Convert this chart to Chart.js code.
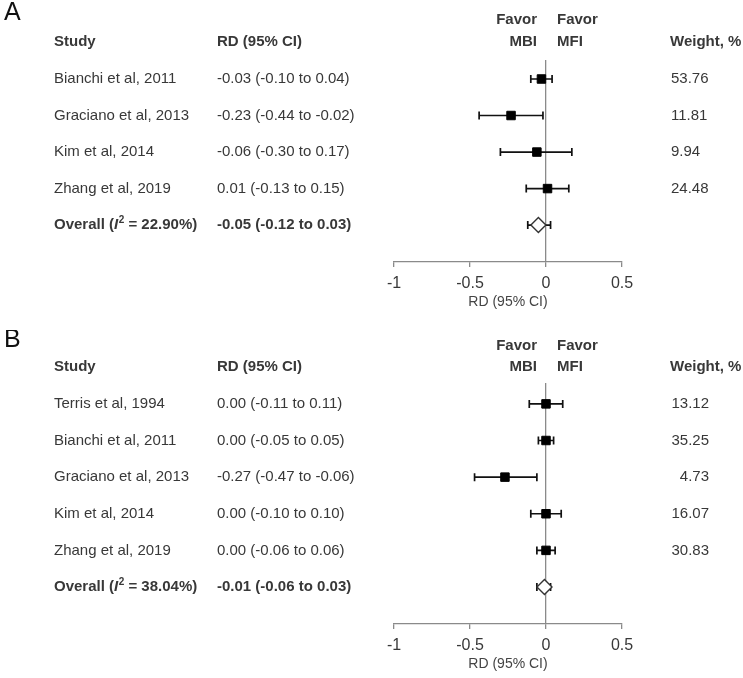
<!DOCTYPE html>
<html>
<head>
<meta charset="utf-8">
<script src="https://cdn.jsdelivr.net/npm/chart.js"></script>
<style>
html, body { margin: 0; padding: 0; background: #fff; }
#wrap { position: relative; width: 743px; height: 678px; }
canvas { position: absolute; left: 0; }
#panelA { top: 0; }
#panelB { top: 330px; }
</style>
</head>
<body>
<div id="wrap">
  <canvas id="panelA" width="743" height="330"></canvas>
  <canvas id="panelB" width="743" height="348"></canvas>
</div>
<script>
// axis
var tickValues = [-1, -0.5, 0, 0.5];
var tickLabels = ['-1', '-0.5', '0', '0.5'];

// panel A
var studiesA = ['Bianchi et al, 2011', 'Graciano et al, 2013', 'Kim et al, 2014', 'Zhang et al, 2019'];
var rdA = [-0.03, -0.23, -0.06, 0.01];
var lowA = [-0.10, -0.44, -0.30, -0.13];
var highA = [0.04, -0.02, 0.17, 0.15];
var weightA = ['53.76', '11.81', '9.94', '24.48'];
var overallA = [-0.05, -0.12, 0.03];
var i2A = '22.90%';

// panel B
var studiesB = ['Terris et al, 1994', 'Bianchi et al, 2011', 'Graciano et al, 2013', 'Kim et al, 2014', 'Zhang et al, 2019'];
var rdB = [0.00, 0.00, -0.27, 0.00, 0.00];
var lowB = [-0.11, -0.05, -0.47, -0.10, -0.06];
var highB = [0.11, 0.05, -0.06, 0.10, 0.06];
var weightB = ['13.12', '35.25', '4.73', '16.07', '30.83'];
var overallB = [-0.01, -0.06, 0.03];
var i2B = '38.04%';

var TEXT = '#383838';
var AXIS = '#8a8a8a';
var FONT = '"Liberation Sans", Arial, sans-serif';

function ci(v, lo, hi) {
    return v.toFixed(2) + ' (' + lo.toFixed(2) + ' to ' + hi.toFixed(2) + ')';
}

var forestPlugin = {
    id: 'forest',
    beforeDatasetsDraw: function(chart) {
        var o = chart.options.plugins.forest;
        var ctx = chart.ctx, xs = chart.scales.x, ys = chart.scales.y;
        ctx.save();
        ctx.strokeStyle = '#111';
        ctx.lineWidth = 1.7;
        o.low.forEach(function(lo, i) {
            var y = ys.getPixelForValue(i);
            var x1 = xs.getPixelForValue(lo);
            var x2 = xs.getPixelForValue(o.high[i]);
            ctx.beginPath();
            ctx.moveTo(x1, y); ctx.lineTo(x2, y);
            ctx.moveTo(x1, y - 4); ctx.lineTo(x1, y + 4);
            ctx.moveTo(x2, y - 4); ctx.lineTo(x2, y + 4);
            ctx.stroke();
        });
        ctx.restore();
    },
    afterDraw: function(chart) {
        var o = chart.options.plugins.forest;
        var ctx = chart.ctx, ys = chart.scales.y;
        var n = o.studies.length;
        ctx.save();
        ctx.fillStyle = TEXT;
        ctx.textBaseline = 'middle';

        // panel letter
        ctx.font = '25px ' + FONT;
        ctx.textAlign = 'left';
        ctx.fillStyle = '#111';
        ctx.fillText(o.letter, 4, ys.getPixelForValue(o.letterRow));
        ctx.fillStyle = TEXT;

        // headers
        var hy = ys.getPixelForValue(o.headRow);
        var fy = ys.getPixelForValue(o.favorRow);
        ctx.font = 'bold 15px ' + FONT;
        ctx.fillText('Study', 54, hy);
        ctx.fillText('RD (95% CI)', 217, hy);
        ctx.fillText('Weight, %', 670, hy);
        ctx.textAlign = 'right';
        ctx.fillText('Favor', 537, fy);
        ctx.fillText('MBI', 537, hy);
        ctx.textAlign = 'left';
        ctx.fillText('Favor', 557, fy);
        ctx.fillText('MFI', 557, hy);

        // study rows
        ctx.font = '15px ' + FONT;
        o.studies.forEach(function(s, i) {
            var y = ys.getPixelForValue(i);
            ctx.textAlign = 'left';
            ctx.fillText(s, 54, y);
            ctx.fillText(ci(o.rd[i], o.low[i], o.high[i]), 217, y);
            if (o.weightAlign === 'right') {
                ctx.textAlign = 'right';
                ctx.fillText(o.weight[i], 709, y);
            } else {
                ctx.fillText(o.weight[i], 671, y);
            }
        });

        // overall row
        var y = ys.getPixelForValue(n);
        var x = 54;
        ctx.textAlign = 'left';
        ctx.font = 'bold 15px ' + FONT;
        ctx.fillText('Overall (', x, y);
        x += ctx.measureText('Overall (').width;
        ctx.font = 'italic bold 15px ' + FONT;
        ctx.fillText('I', x, y);
        x += ctx.measureText('I').width + 0.5;
        ctx.font = 'bold 10px ' + FONT;
        ctx.fillText('2', x, y - 5);
        x += ctx.measureText('2').width;
        ctx.font = 'bold 15px ' + FONT;
        ctx.fillText(' = ' + o.i2 + ')', x, y);
        ctx.fillText(ci(o.overall[0], o.overall[1], o.overall[2]), 217, y);
        ctx.restore();
    }
};

function makePanel(id, letter, studies, rd, low, high, weight, overall, i2, rows, pad, weightAlign) {
    var n = studies.length;
    var pts = rd.map(function(v, i) { return {x: v, y: i}; });
    return new Chart(document.getElementById(id).getContext('2d'), {
        type: 'scatter',
        data: {
            datasets: [
                {
                    data: pts,
                    pointStyle: 'rect',
                    pointRadius: 6,
                    backgroundColor: '#000',
                    borderColor: '#000',
                    borderWidth: 1
                },
                {
                    data: [{x: overall[0], y: n}],
                    pointStyle: 'rectRot',
                    pointRadius: 7.5,
                    backgroundColor: '#fff',
                    borderColor: '#333',
                    borderWidth: 1.4
                }
            ]
        },
        options: {
            responsive: false,
            animation: false,
            events: [],
            layout: { padding: { left: 394, right: 121, top: pad[0], bottom: pad[1] } },
            scales: {
                x: {
                    type: 'linear',
                    min: -1,
                    max: 0.5,
                    afterBuildTicks: function(s) {
                        s.ticks = tickValues.map(function(v) { return {value: v}; });
                    },
                    afterFit: function(s) { s.height = 49; },
                    ticks: {
                        padding: 7,
                        color: TEXT,
                        font: { family: FONT, size: 16 },
                        callback: function(v) {
                            var k = tickValues.indexOf(v);
                            return k >= 0 ? tickLabels[k] : '';
                        }
                    },
                    grid: {
                        color: function(c) { return c.tick && c.tick.value === 0 ? AXIS : 'rgba(0,0,0,0)'; },
                        tickColor: AXIS,
                        tickLength: 5,
                        lineWidth: 1.3
                    },
                    border: { display: true, color: AXIS, width: 1.3 },
                    title: {
                        display: true,
                        text: 'RD (95% CI)',
                        color: '#444',
                        font: { family: FONT, size: 14 },
                        padding: { top: 0, bottom: 0 }
                    }
                },
                y: {
                    type: 'linear',
                    display: false,
                    reverse: true,
                    min: rows[0],
                    max: rows[1]
                }
            },
            plugins: {
                legend: { display: false },
                tooltip: { enabled: false },
                forest: {
                    letter: letter,
                    studies: studies,
                    rd: rd,
                    low: low.concat([overall[1]]),
                    high: high.concat([overall[2]]),
                    weight: weight,
                    weightAlign: weightAlign,
                    overall: overall,
                    i2: i2,
                    headRow: rows[2],
                    favorRow: rows[3],
                    letterRow: rows[4]
                }
            }
        },
        plugins: [forestPlugin]
    });
}

makePanel('panelA', 'A', studiesA, rdA, lowA, highA, weightA, overallA, i2A,
    [-0.52, 5.01, -1.03, -1.61, -1.81], [60, 19], 'left');
makePanel('panelB', 'B', studiesB, rdB, lowB, highB, weightB, overallB, i2B,
    [-0.57, 6.01, -1.0, -1.58, -1.75], [53, 5], 'right');
</script>
</body>
</html>
